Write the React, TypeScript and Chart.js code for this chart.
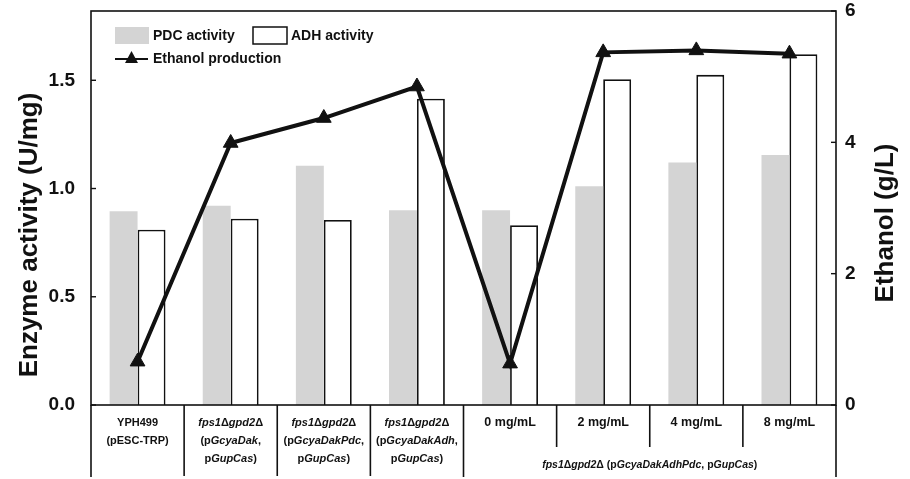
import React, { useEffect, useRef } from 'react';
import { Chart, registerables } from 'chart.js';
Chart.register(...registerables);

const FONT = '"Liberation Sans", Arial, Helvetica, sans-serif';

const categories = ['YPH499', 'Dak', 'DakPdc', 'DakAdh', '0 mg/mL', '2 mg/mL', '4 mg/mL', '8 mg/mL'];
const pdcActivity = [0.895, 0.92, 1.105, 0.9, 0.9, 1.01, 1.12, 1.155];
const adhActivity = [0.81, 0.86, 0.855, 1.415, 0.83, 1.505, 1.525, 1.62];
const ethanolProduction = [0.66, 3.99, 4.37, 4.85, 0.63, 5.37, 5.4, 5.35];
const leftTicks = [0, 0.5, 1.0, 1.5];
const rightTicks = [0, 2, 4, 6];
// text between * is italic
const categoryLabelLines = [
  ['YPH499', '(pESC-TRP)'],
  ['*fps1*Δ*gpd2*Δ', '(p*GcyaDak*,', 'p*GupCas*)'],
  ['*fps1*Δ*gpd2*Δ', '(p*GcyaDakPdc*,', 'p*GupCas*)'],
  ['*fps1*Δ*gpd2*Δ', '(p*GcyaDakAdh*,', 'p*GupCas*)'],
  ['0 mg/mL'],
  ['2 mg/mL'],
  ['4 mg/mL'],
  ['8 mg/mL'],
];
const groupLabel = '*fps1*Δ*gpd2*Δ (p*GcyaDakAdhPdc*, p*GupCas*)';
const groupStart = 4;
const groupEnd = 7;
const leftTitle = 'Enzyme activity (U/mg)';
const rightTitle = 'Ethanol (g/L)';
const legendLabels = ['PDC activity', 'ADH activity', 'Ethanol production'];

const INK = '#111111';
const GRAY = '#d4d4d4';

function drawRich(ctx: CanvasRenderingContext2D, text: string, cx: number, cy: number, size: number) {
  const parts = text.split('*');
  let total = 0;
  const segs = parts.map((t, i) => {
    const font = `${i % 2 ? 'italic ' : ''}bold ${size}px ${FONT}`;
    ctx.font = font;
    const w = ctx.measureText(t).width;
    total += w;
    return { t, font, w };
  });
  let x = cx - total / 2;
  ctx.textAlign = 'left';
  ctx.textBaseline = 'middle';
  ctx.fillStyle = INK;
  segs.forEach((s) => {
    ctx.font = s.font;
    ctx.fillText(s.t, x, cy);
    x += s.w;
  });
}

const decorPlugin = {
  id: 'decor',
  afterDraw(chart: any) {
    const ctx: CanvasRenderingContext2D = chart.ctx;
    const { left, right, top, bottom } = chart.chartArea;
    const xs = chart.scales.x;
    const y = chart.scales.y;
    const y1 = chart.scales.y1;
    const H = chart.height;
    ctx.save();
    // frame
    ctx.strokeStyle = INK;
    ctx.lineWidth = 1.6;
    ctx.strokeRect(left, top, right - left, bottom - top);
    // inward ticks
    ctx.lineWidth = 1.4;
    leftTicks.forEach((v) => {
      const py = y.getPixelForValue(v);
      ctx.beginPath();
      ctx.moveTo(left, py);
      ctx.lineTo(left + 5, py);
      ctx.stroke();
    });
    rightTicks.forEach((v) => {
      const py = y1.getPixelForValue(v);
      ctx.beginPath();
      ctx.moveTo(right, py);
      ctx.lineTo(right - 5, py);
      ctx.stroke();
    });
    // category table dividers
    const n = categories.length;
    const cw = (xs.getPixelForValue(1) - xs.getPixelForValue(0));
    ctx.lineWidth = 1.6;
    for (let i = 0; i <= n; i++) {
      const bx = i < n ? xs.getPixelForValue(i) - cw / 2 : xs.getPixelForValue(n - 1) + cw / 2;
      let endY = H - 2;
      if (i > groupStart && i <= groupEnd) endY = bottom + 42;
      else if (i > 0 && i < groupStart) endY = H - 3;
      ctx.beginPath();
      ctx.moveTo(bx, bottom);
      ctx.lineTo(bx, endY);
      ctx.stroke();
    }
    // category labels
    categoryLabelLines.forEach((lines, i) => {
      const cx = xs.getPixelForValue(i);
      const isMg = i >= groupStart;
      lines.forEach((ln, k) => {
        drawRich(ctx, ln, cx, bottom + 18 + k * 18, isMg ? 12.5 : 11);
      });
    });
    const gx = (xs.getPixelForValue(groupStart) + xs.getPixelForValue(groupEnd)) / 2;
    drawRich(ctx, groupLabel, gx, bottom + 60, 10.5);

    // axis titles
    ctx.fillStyle = INK;
    ctx.font = `bold 26px ${FONT}`;
    ctx.textAlign = 'center';
    ctx.textBaseline = 'middle';
    ctx.save();
    ctx.translate(30, 235);
    ctx.rotate(-Math.PI / 2);
    ctx.fillText(leftTitle, 0, 0);
    ctx.restore();
    ctx.save();
    ctx.translate(886, 223);
    ctx.rotate(-Math.PI / 2);
    ctx.fillText(rightTitle, 0, 0);
    ctx.restore();

    // legend
    const lx = left + 24;
    ctx.font = `bold 14px ${FONT}`;
    ctx.textAlign = 'left';
    ctx.textBaseline = 'middle';
    ctx.fillStyle = GRAY;
    ctx.fillRect(lx, top + 16, 34, 17);
    ctx.fillStyle = INK;
    ctx.fillText(legendLabels[0], lx + 38, top + 25);
    ctx.fillStyle = '#ffffff';
    ctx.fillRect(lx + 138, top + 16, 34, 17);
    ctx.strokeStyle = INK;
    ctx.lineWidth = 1.5;
    ctx.strokeRect(lx + 138, top + 16, 34, 17);
    ctx.fillStyle = INK;
    ctx.fillText(legendLabels[1], lx + 176, top + 25);
    const ly = top + 48;
    ctx.lineWidth = 2;
    ctx.beginPath();
    ctx.moveTo(lx, ly);
    ctx.lineTo(lx + 33, ly);
    ctx.stroke();
    ctx.beginPath();
    ctx.moveTo(lx + 16.5, ly - 8);
    ctx.lineTo(lx + 23, ly + 4);
    ctx.lineTo(lx + 10, ly + 4);
    ctx.closePath();
    ctx.fill();
    ctx.fillText(legendLabels[2], lx + 38, ly);
    ctx.restore();
  },
};

export default function App() {
  const ref = useRef<HTMLCanvasElement | null>(null);
  useEffect(() => {
    if (!ref.current) return;
    const chart = new Chart(ref.current, {
      type: 'bar',
      data: {
        labels: categories,
        datasets: [
          {
            type: 'line',
            label: legendLabels[2],
            data: ethanolProduction,
            yAxisID: 'y1',
            borderColor: INK,
            borderWidth: 4,
            backgroundColor: INK,
            pointStyle: 'triangle',
            pointRadius: 8.5,
            pointBackgroundColor: INK,
            pointBorderColor: INK,
            pointBorderWidth: 1,
            tension: 0,
            order: 0,
          } as any,
          {
            type: 'bar',
            label: legendLabels[0],
            data: pdcActivity,
            yAxisID: 'y',
            backgroundColor: GRAY,
            borderWidth: 0,
            order: 1,
          },
          {
            type: 'bar',
            label: legendLabels[1],
            data: adhActivity,
            yAxisID: 'y',
            backgroundColor: '#ffffff',
            borderColor: INK,
            borderWidth: 1.8,
            order: 1,
          },
        ],
      },
      options: {
        responsive: false,
        animation: false,
        events: [],
        categoryPercentage: 0.6,
        barPercentage: 1.0,
        layout: { padding: { top: 11, bottom: 74, left: 0, right: 0 } },
        plugins: { legend: { display: false }, tooltip: { enabled: false } },
        scales: {
          x: {
            display: false,
            offset: true,
          },
          y: {
            position: 'left',
            min: 0,
            max: 1.82,
            afterFit: (s: any) => { s.width = 91; s.paddingTop = 0; s.paddingBottom = 0; },
            afterBuildTicks: (s: any) => { s.ticks = leftTicks.map((v) => ({ value: v })); },
            grid: { display: false, drawTicks: false },
            border: { display: false },
            ticks: {
              padding: 16,
              color: INK,
              font: { family: FONT, size: 19, weight: 'bold' },
              callback: (v: any) => Number(v).toFixed(1),
            },
          },
          y1: {
            position: 'right',
            min: 0,
            max: 6,
            afterFit: (s: any) => { s.width = 74; s.paddingTop = 0; s.paddingBottom = 0; },
            afterBuildTicks: (s: any) => { s.ticks = rightTicks.map((v) => ({ value: v })); },
            grid: { display: false, drawTicks: false },
            border: { display: false },
            ticks: {
              padding: 9,
              color: INK,
              font: { family: FONT, size: 19, weight: 'bold' },
              callback: (v: any) => String(v),
            },
          },
        },
      } as any,
      plugins: [decorPlugin],
    });
    return () => chart.destroy();
  }, []);
  return (
    <div style={{ position: 'fixed', left: 0, top: 0, width: 910, height: 479, background: '#fff' }}>
      <canvas ref={ref} width={910} height={479} style={{ display: 'block' }} />
    </div>
  );
}
